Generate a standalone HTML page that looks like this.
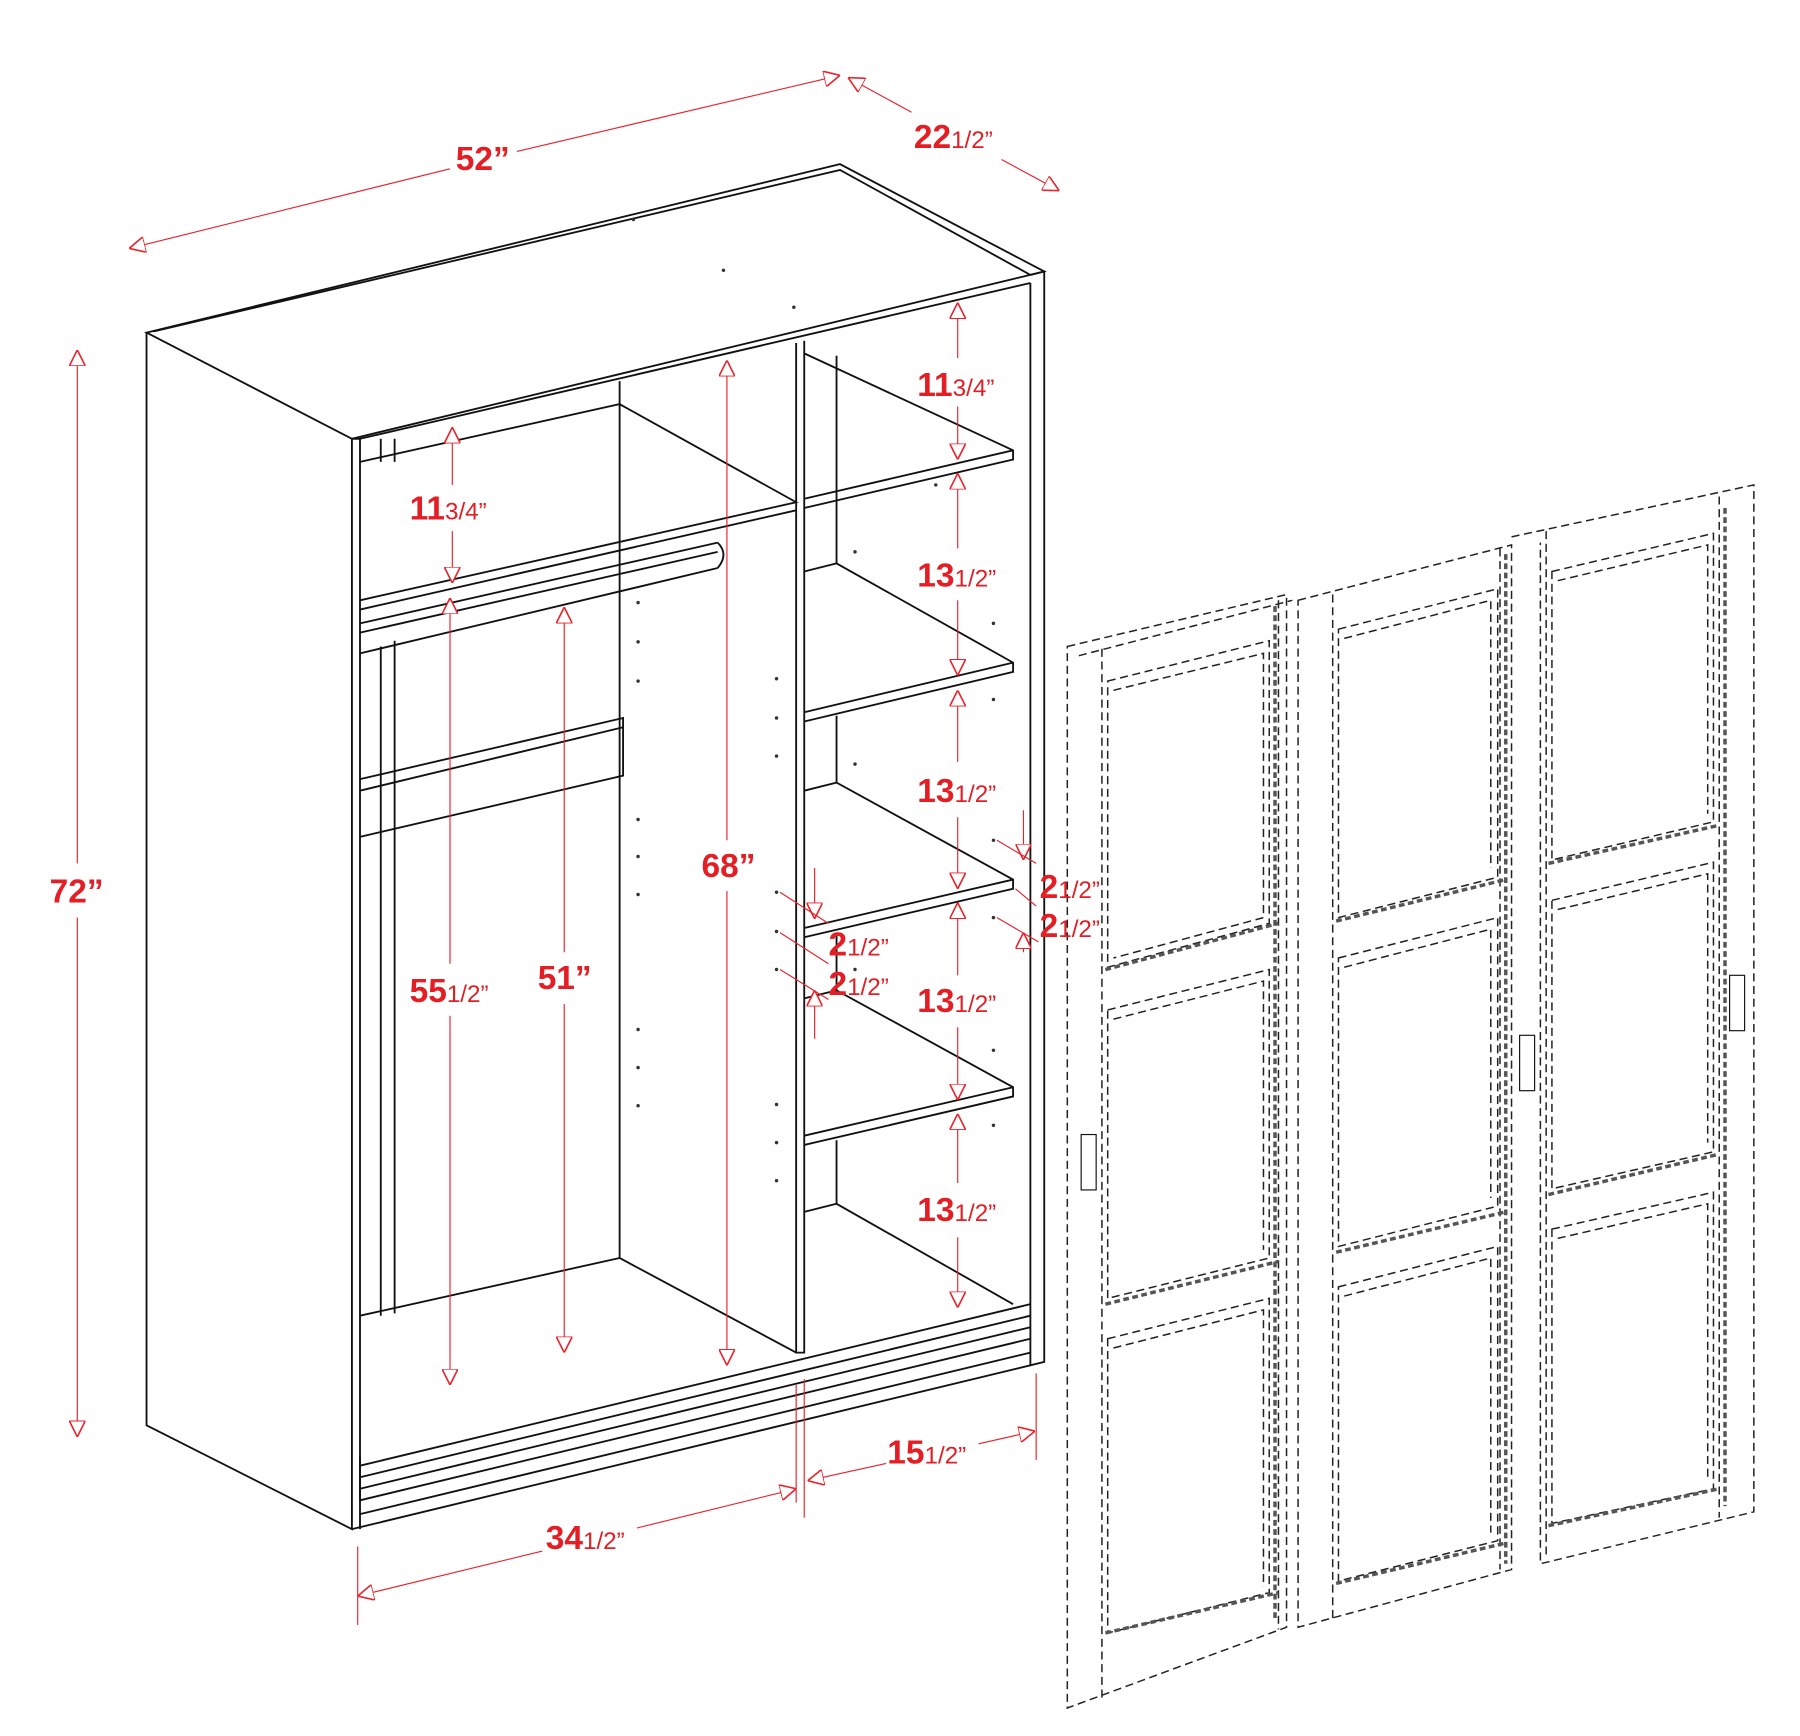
<!DOCTYPE html>
<html><head><meta charset="utf-8"><style>
html,body{margin:0;padding:0;background:#fff}
svg{display:block}
.k{stroke:#111;stroke-width:1.6;fill:none}
.t{stroke:#111;stroke-width:1;fill:none}
.d{stroke:#222;stroke-width:1.3;fill:none;stroke-dasharray:7 4}
.dd{stroke:#555;stroke-width:3;fill:none;stroke-dasharray:5 3}
.r{stroke:#e8232b;stroke-width:1;fill:none}
text{font-family:"Liberation Sans",sans-serif;font-weight:bold;fill:#e31e24}
.f{font-size:21px;font-weight:normal}
</style></head><body>
<svg width="1800" height="1736" viewBox="0 0 1560 1504" xmlns="http://www.w3.org/2000/svg">
<defs>
<marker id="a" viewBox="0 0 10 10" refX="10" refY="5" markerWidth="14" markerHeight="14" orient="auto-start-reverse" markerUnits="userSpaceOnUse">
<path d="M0,0 L10,5 L0,10 Z" fill="#fff" stroke="#e8232b" stroke-width="1"/></marker>
</defs>
<!-- cabinet outline -->
<g class="k">
<path d="M127,288 L728,142 L905,235 L305,380 Z"/>
<path d="M133,287 L728,147 L893,238"/>
<path d="M127,288 L127,1235 L305,1325 L305,380"/>
<path d="M305,380 L312,380 L312,1325"/>
<path d="M893,238 L905,235 L905,1180 L893,1183 L893,245"/>
<path d="M312,380 L893,245"/>
<path d="M305,1325 L893,1183"/>
<path d="M312,1270 L893,1130"/>
<path d="M312,1280 L893,1140"/>
<path d="M312,1290 L893,1150"/>
<path d="M312,1300 L893,1160"/>
<path d="M312,1312 L893,1172"/>
<path d="M312,1262 L312,1300"/>
<!-- divider -->
<path d="M690,297 L690,1172 L697,1172 L697,295"/>
<!-- left compartment back -->
<path d="M537,330 L537,1090 L690,1172"/>
<path d="M312,1140 L537,1090"/>
<!-- top shelf left -->
<path d="M312,520 L690,435 L537,350 L312,400"/>
<path d="M312,528 L690,442"/>
<!-- rod -->
<path d="M312,540 L622,470 M312,548 L622,478 M312,566 L622,492 M622,470 Q632,480 622,492"/>
<!-- left panels -->
<path d="M330,380 L330,400 M342,380 L342,400 M330,560 L330,1140 M342,555 L342,1138"/>
<path d="M312,675 L540,622 L540,672 L312,725 M312,685 L540,630"/>
<!-- right shelves -->
<path d="M697,306 L878,390 L878,398 L697,440 M697,432 L878,390"/>
<path d="M697,495 L725,488 L878,574 L878,582 L697,625 M697,617 L878,574"/>
<path d="M697,685 L725,678 L878,762 L878,770 L697,812 M697,804 L878,762"/>
<path d="M697,865 L725,858 L878,942 L878,950 L697,992 M697,984 L878,942"/>
<path d="M697,1050 L725,1043 L878,1130"/>
<path d="M725,308 L725,488 M725,620 L725,678 M725,808 L725,858 M725,988 L725,1043"/>
</g>
<g fill="#333">
<circle cx="549" cy="190" r="1.5"/><circle cx="627" cy="234" r="1.5"/><circle cx="688" cy="266" r="1.5"/>
<circle cx="553" cy="522" r="1.5"/><circle cx="553" cy="556" r="1.5"/><circle cx="553" cy="590" r="1.5"/>
<circle cx="553" cy="710" r="1.5"/><circle cx="553" cy="742" r="1.5"/><circle cx="553" cy="775" r="1.5"/>
<circle cx="553" cy="892" r="1.5"/><circle cx="553" cy="925" r="1.5"/><circle cx="553" cy="958" r="1.5"/>
<circle cx="673" cy="588" r="1.5"/><circle cx="673" cy="622" r="1.5"/><circle cx="673" cy="655" r="1.5"/>
<circle cx="673" cy="773" r="1.5"/><circle cx="673" cy="807" r="1.5"/><circle cx="673" cy="840" r="1.5"/>
<circle cx="673" cy="957" r="1.5"/><circle cx="673" cy="990" r="1.5"/><circle cx="673" cy="1023" r="1.5"/>
<circle cx="741" cy="478" r="1.5"/><circle cx="741" cy="662" r="1.5"/><circle cx="741" cy="840" r="1.5"/>
<circle cx="861" cy="540" r="1.5"/><circle cx="861" cy="606" r="1.5"/><circle cx="861" cy="728" r="1.5"/>
<circle cx="861" cy="795" r="1.5"/><circle cx="861" cy="910" r="1.5"/><circle cx="861" cy="975" r="1.5"/>
<circle cx="811" cy="420" r="1.5"/>
</g>
<!-- doors -->
<g>
<path class="d" d="M925,560 L1115,515 L1115,1410 L925,1480 Z"/>
<path class="d" d="M935,568 L1120,520 M955,562 L955,1475 M1108,520 L1108,1412"/>
<path class="d" d="M960,590 L1100,555 L1100,800 L960,838 Z M965,598 L1095,566 L1095,795 L965,830"/>
<path class="d" d="M960,875 L1100,840 L1100,1090 L960,1125 Z M965,883 L1095,850 L1095,1083"/>
<path class="d" d="M960,1160 L1100,1125 L1100,1380 L960,1415 Z M965,1168 L1095,1135 L1095,1375"/>
<path class="dd" d="M958,840 L1108,800 M958,1130 L1108,1093 M958,1415 L1108,1380 M1105,525 L1105,1405"/>
<path class="d" d="M1125,520 L1310,472 L1310,1360 L1125,1410 Z"/>
<path class="d" d="M1155,515 L1155,1405 M1300,475 L1300,1360"/>
<path class="d" d="M1160,545 L1298,510 L1298,760 L1160,795 Z M1165,553 L1292,520 L1292,752"/>
<path class="d" d="M1160,830 L1298,795 L1298,1045 L1160,1080 Z M1165,838 L1292,805 L1292,1038"/>
<path class="d" d="M1160,1115 L1298,1080 L1298,1335 L1160,1370 Z M1165,1123 L1292,1090 L1292,1328"/>
<path class="dd" d="M1158,798 L1305,762 M1158,1085 L1305,1050 M1158,1372 L1305,1337 M1305,480 L1305,1355"/>
<path class="d" d="M1310,465 L1520,420 L1520,1310 L1335,1355 L1335,470"/>
<path class="d" d="M1490,430 L1490,1315 M1340,460 L1340,1350"/>
<path class="d" d="M1345,495 L1485,462 L1485,712 L1345,745 Z M1350,503 L1480,472 L1480,705"/>
<path class="d" d="M1345,780 L1485,747 L1485,998 L1345,1030 Z M1350,788 L1480,757 L1480,990"/>
<path class="d" d="M1345,1065 L1485,1033 L1485,1290 L1345,1320 Z M1350,1073 L1480,1043 L1480,1283"/>
<path class="dd" d="M1342,748 L1490,715 M1342,1035 L1490,1000 M1342,1322 L1490,1290 M1495,440 L1495,1305"/>
<rect x="937" y="983" width="13" height="48" class="t"/>
<rect x="1317" y="897" width="13" height="48" class="t"/>
<rect x="1499" y="845" width="13" height="48" class="t"/>
</g>
<!-- dimensions -->
<g class="r">
<line x1="112" y1="215" x2="390" y2="146" marker-start="url(#a)"/>
<line x1="448" y1="131" x2="728" y2="65" marker-end="url(#a)"/>
<line x1="735" y1="67" x2="790" y2="97" marker-start="url(#a)"/>
<line x1="868" y1="138" x2="918" y2="165" marker-end="url(#a)"/>
<line x1="67" y1="303" x2="67" y2="748" marker-start="url(#a)"/>
<line x1="67" y1="795" x2="67" y2="1245" marker-end="url(#a)"/>
<line x1="830" y1="262" x2="830" y2="310" marker-start="url(#a)"/>
<line x1="830" y1="352" x2="830" y2="398" marker-end="url(#a)"/>
<line x1="830" y1="410" x2="830" y2="475" marker-start="url(#a)"/>
<line x1="830" y1="520" x2="830" y2="585" marker-end="url(#a)"/>
<line x1="830" y1="598" x2="830" y2="660" marker-start="url(#a)"/>
<line x1="830" y1="708" x2="830" y2="770" marker-end="url(#a)"/>
<line x1="830" y1="782" x2="830" y2="845" marker-start="url(#a)"/>
<line x1="830" y1="890" x2="830" y2="953" marker-end="url(#a)"/>
<line x1="830" y1="965" x2="830" y2="1025" marker-start="url(#a)"/>
<line x1="830" y1="1072" x2="830" y2="1133" marker-end="url(#a)"/>
<line x1="630" y1="312" x2="630" y2="728" marker-start="url(#a)"/>
<line x1="630" y1="772" x2="630" y2="1183" marker-end="url(#a)"/>
<line x1="392" y1="370" x2="392" y2="420" marker-start="url(#a)"/>
<line x1="392" y1="460" x2="392" y2="505" marker-end="url(#a)"/>
<line x1="390" y1="518" x2="390" y2="835" marker-start="url(#a)"/>
<line x1="390" y1="880" x2="390" y2="1200" marker-end="url(#a)"/>
<line x1="489" y1="526" x2="489" y2="825" marker-start="url(#a)"/>
<line x1="489" y1="870" x2="489" y2="1172" marker-end="url(#a)"/>
<line x1="706" y1="752" x2="706" y2="796" marker-end="url(#a)"/>
<line x1="706" y1="900" x2="706" y2="858" marker-end="url(#a)"/>
<line x1="676" y1="773" x2="718" y2="800"/><line x1="676" y1="808" x2="718" y2="835"/><line x1="676" y1="840" x2="718" y2="866"/>
<line x1="887" y1="702" x2="887" y2="745" marker-end="url(#a)"/>
<line x1="887" y1="825" x2="887" y2="808" marker-end="url(#a)"/>
<line x1="864" y1="728" x2="898" y2="748"/><line x1="880" y1="770" x2="898" y2="785"/><line x1="864" y1="795" x2="900" y2="816"/>
<line x1="700" y1="1283" x2="768" y2="1268" marker-start="url(#a)"/>
<line x1="848" y1="1251" x2="897" y2="1240" marker-end="url(#a)"/>
<line x1="697" y1="1195" x2="697" y2="1315"/><line x1="898" y1="1190" x2="898" y2="1265"/>
<line x1="310" y1="1383" x2="470" y2="1344" marker-start="url(#a)"/>
<line x1="552" y1="1324" x2="690" y2="1290" marker-end="url(#a)"/>
<line x1="310" y1="1340" x2="310" y2="1408"/><line x1="690" y1="1200" x2="690" y2="1302"/>
</g>
<g font-size="29">
<text x="395" y="147">52”</text>
<text x="792" y="128">22<tspan class="f">1/2”</tspan></text>
<text x="43" y="782">72”</text>
<text x="795" y="343">11<tspan class="f">3/4”</tspan></text>
<text x="795" y="508">13<tspan class="f">1/2”</tspan></text>
<text x="795" y="695">13<tspan class="f">1/2”</tspan></text>
<text x="795" y="877">13<tspan class="f">1/2”</tspan></text>
<text x="795" y="1058">13<tspan class="f">1/2”</tspan></text>
<text x="608" y="760">68”</text>
<text x="355" y="450">11<tspan class="f">3/4”</tspan></text>
<text x="355" y="868">55<tspan class="f">1/2”</tspan></text>
<text x="466" y="857">51”</text>
<text x="718" y="828">2<tspan class="f">1/2”</tspan></text>
<text x="718" y="862">2<tspan class="f">1/2”</tspan></text>
<text x="901" y="778">2<tspan class="f">1/2”</tspan></text>
<text x="901" y="812">2<tspan class="f">1/2”</tspan></text>
<text x="769" y="1268">15<tspan class="f">1/2”</tspan></text>
<text x="473" y="1342">34<tspan class="f">1/2”</tspan></text>
</g>
</svg>
</body></html>
